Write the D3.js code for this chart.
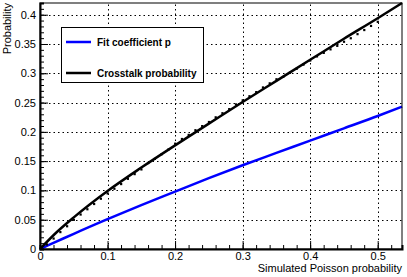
<!DOCTYPE html>
<html>
<head>
<meta charset="utf-8">
<script src="https://cdn.jsdelivr.net/npm/d3@7"></script>
<style>
  body { margin: 0; background: #fff; }
  svg { display: block; font-family: "Liberation Sans", Arial, sans-serif; }
</style>
</head>
<body>
<svg id="chart" width="407" height="277"></svg>
<script>
// curves
const simProb = [0, 0.025, 0.05, 0.1, 0.15, 0.2, 0.25, 0.3, 0.35, 0.4, 0.45, 0.5, 0.536]
const crosstalk = [0, 0.029, 0.054, 0.099, 0.139, 0.177, 0.214, 0.251, 0.287, 0.323, 0.359, 0.394, 0.42]
const fitP = [0, 0.013, 0.026, 0.051, 0.075, 0.098, 0.121, 0.143, 0.164, 0.185, 0.206, 0.227, 0.243]
// simulated points (black markers hugging the line)
const ptX = [0.01, 0.02, 0.03, 0.04, 0.05, 0.06, 0.07, 0.08, 0.09, 0.1,
  0.11, 0.12, 0.13, 0.14, 0.15, 0.16, 0.17, 0.18, 0.19, 0.2,
  0.21, 0.22, 0.23, 0.24, 0.25, 0.26, 0.27, 0.28, 0.29, 0.3,
  0.31, 0.32, 0.33, 0.34, 0.35, 0.36, 0.37, 0.38, 0.39, 0.4,
  0.41, 0.42, 0.43, 0.44, 0.45, 0.46, 0.47, 0.48, 0.49, 0.5]
const ptY = [0.008, 0.018, 0.029, 0.039, 0.05, 0.059, 0.068, 0.077, 0.086, 0.095,
  0.103, 0.111, 0.12, 0.128, 0.136, 0.147, 0.154, 0.162, 0.17, 0.18,
  0.188, 0.195, 0.203, 0.21, 0.217, 0.225, 0.232, 0.239, 0.247, 0.254,
  0.261, 0.268, 0.276, 0.283, 0.29, 0.294, 0.301, 0.308, 0.315, 0.322,
  0.329, 0.335, 0.341, 0.347, 0.354, 0.36, 0.367, 0.374, 0.381, 0.388]
const xTicks = [0, 0.1, 0.2, 0.3, 0.4, 0.5]
const yTicks = [0, 0.05, 0.1, 0.15, 0.2, 0.25, 0.3, 0.35, 0.4]
const legendItems = ['Fit coefficient p', 'Crosstalk probability']
const legendColors = ['#0000ff', '#000000']

const svg = d3.select('#chart')
const m = { left: 40, right: 5, top: 3, bottom: 28 }
const W = 407, H = 277

const x = d3.scaleLinear().domain([0, 0.536]).range([m.left, W - m.right])
const y = d3.scaleLinear().domain([0, 0.42]).range([H - m.bottom, m.top])

// grid
const grid = svg.append('g').attr('stroke', '#000').attr('stroke-width', 1).attr('stroke-dasharray', '1.5,3')
grid.selectAll('.gx').data(xTicks.slice(1)).enter().append('line')
  .attr('x1', d => Math.round(x(d)) + 0.5).attr('x2', d => Math.round(x(d)) + 0.5)
  .attr('y1', y(0)).attr('y2', m.top)
grid.selectAll('.gy').data(yTicks.slice(1)).enter().append('line')
  .attr('y1', d => Math.round(y(d)) + 0.5).attr('y2', d => Math.round(y(d)) + 0.5)
  .attr('x1', m.left).attr('x2', W - m.right)

// curves
const line = d3.line().x(d => x(d[0])).y(d => y(d[1])).curve(d3.curveMonotoneX)
svg.append('path').datum(d3.zip(simProb, fitP)).attr('d', line)
  .attr('fill', 'none').attr('stroke', '#0000ff').attr('stroke-width', 2.5)

svg.append('g').selectAll('rect').data(d3.zip(ptX, ptY)).enter().append('rect')
  .attr('x', d => x(d[0]) - 1).attr('y', d => y(d[1]) - 1)
  .attr('width', 2.2).attr('height', 2.2).attr('fill', '#000')

svg.append('path').datum(d3.zip(simProb, crosstalk)).attr('d', line)
  .attr('fill', 'none').attr('stroke', '#000').attr('stroke-width', 2.5)

// frame
svg.append('rect').attr('x', m.left).attr('y', m.top)
  .attr('width', W - m.right - m.left).attr('height', H - m.bottom - m.top)
  .attr('fill', 'none').attr('stroke', '#000').attr('stroke-width', 1)

// axes, ROOT style: ticks point inward
const xAxis = d3.axisBottom(x).tickValues(d3.range(0, 0.5361, 0.02)).tickSize(-4).tickFormat('')
svg.append('g').attr('transform', `translate(0,${y(0)})`).call(xAxis)
  .call(g => g.select('.domain').attr('stroke-width', 2))
const xMajor = d3.axisBottom(x).tickValues(xTicks).tickSize(-8).tickPadding(3).tickFormat(d3.format('~g'))
svg.append('g').attr('transform', `translate(0,${y(0)})`).call(xMajor)
  .call(g => g.select('.domain').remove())
  .call(g => g.selectAll('text').attr('font-size', 11).attr('font-family', 'Liberation Sans'))

const yAxis = d3.axisLeft(y).tickValues(d3.range(0, 0.4201, 0.01)).tickSize(-4).tickFormat('')
svg.append('g').attr('transform', `translate(${m.left},0)`).call(yAxis)
  .call(g => g.select('.domain').attr('stroke-width', 2))
const yMajor = d3.axisLeft(y).tickValues(yTicks).tickSize(-8).tickPadding(4).tickFormat(d3.format('~g'))
svg.append('g').attr('transform', `translate(${m.left},0)`).call(yMajor)
  .call(g => g.select('.domain').remove())
  .call(g => g.selectAll('text').attr('font-size', 11).attr('font-family', 'Liberation Sans'))

// axis titles
svg.append('text').attr('x', W - m.right).attr('y', 272).attr('text-anchor', 'end')
  .attr('font-size', 11).text('Simulated Poisson probability')
svg.append('text').attr('transform', `translate(11,${m.top}) rotate(-90)`).attr('text-anchor', 'end')
  .attr('font-size', 11).text('Probability')

// legend
const lg = svg.append('g')
lg.append('rect').attr('x', 61.5).attr('y', 27.5).attr('width', 142).attr('height', 55)
  .attr('fill', '#fff').attr('stroke', '#000').attr('stroke-width', 1)
legendItems.forEach((t, i) => {
  const ly = 42 + i * 31
  lg.append('line').attr('x1', 66).attr('x2', 91).attr('y1', ly).attr('y2', ly)
    .attr('stroke', legendColors[i]).attr('stroke-width', 2.5)
  lg.append('text').attr('x', 97).attr('y', ly + 3.5).attr('font-size', 10).attr('font-weight', 'bold').text(t)
})
</script>
</body>
</html>
